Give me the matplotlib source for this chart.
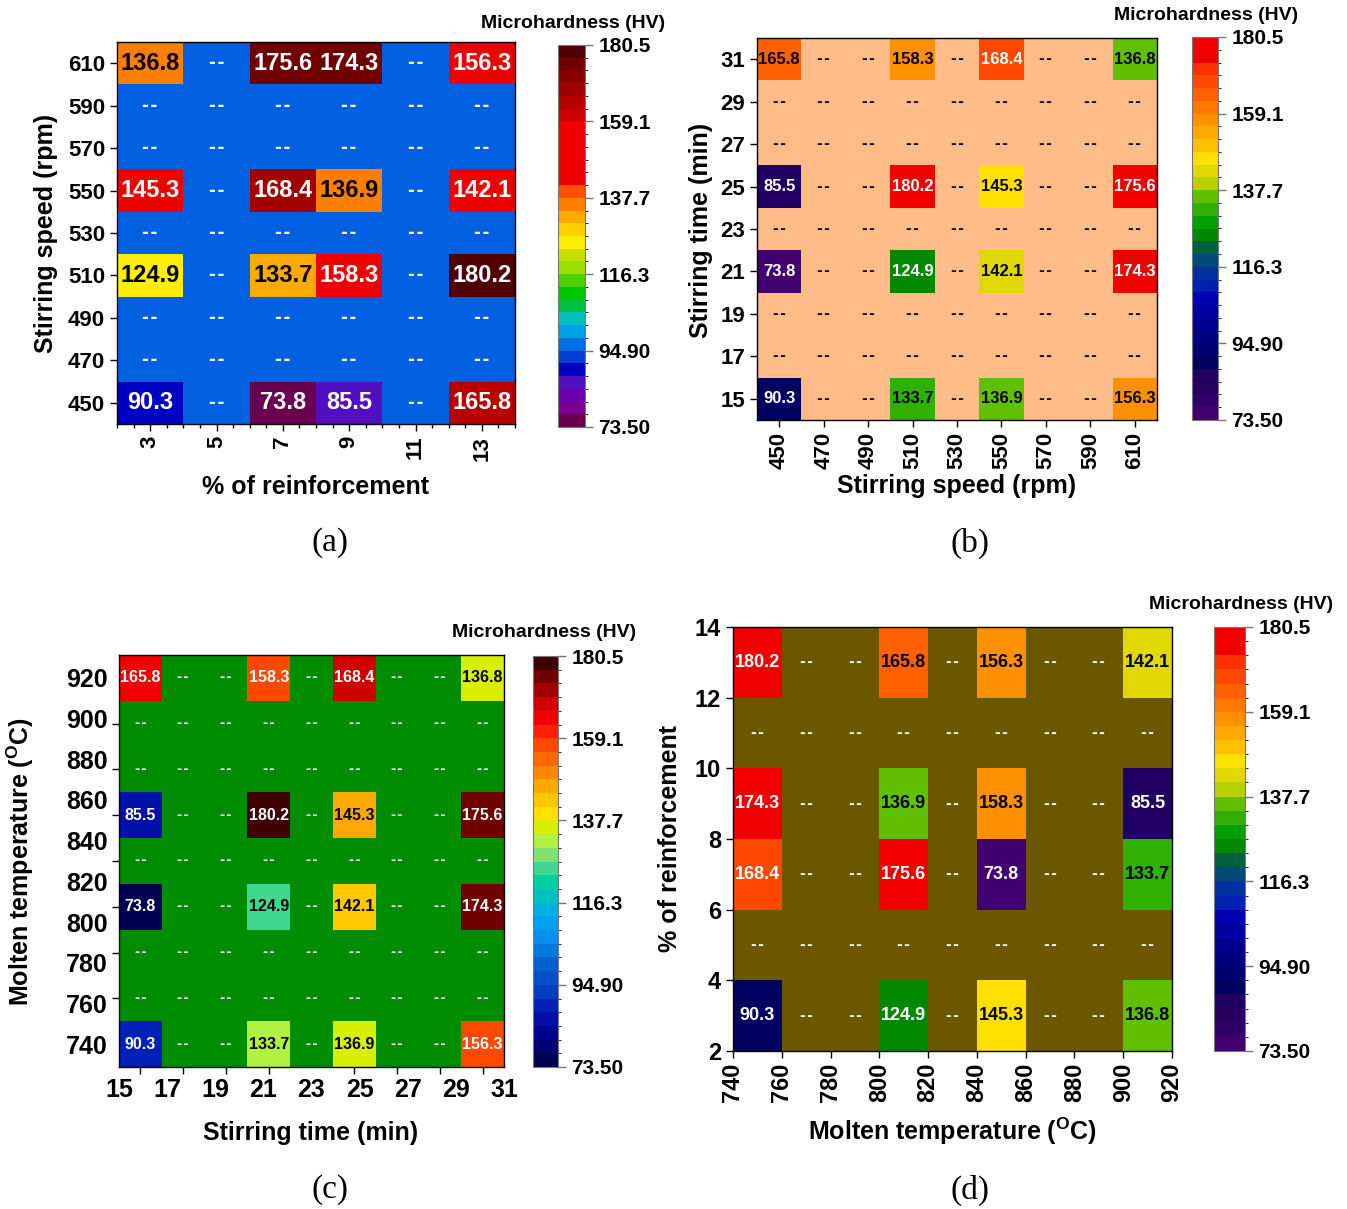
import numpy as np
import matplotlib
matplotlib.use("Agg")
import matplotlib.pyplot as plt
from matplotlib.colors import ListedColormap, BoundaryNorm, to_rgb

# ---------------- data ----------------
N = None
a_cols = [3, 5, 7, 9, 11, 13]
a_rows = [610, 590, 570, 550, 530, 510, 490, 470, 450]
a_vals = [
    [136.8, N, 175.6, 174.3, N, 156.3],
    [N, N, N, N, N, N],
    [N, N, N, N, N, N],
    [145.3, N, 168.4, 136.9, N, 142.1],
    [N, N, N, N, N, N],
    [124.9, N, 133.7, 158.3, N, 180.2],
    [N, N, N, N, N, N],
    [N, N, N, N, N, N],
    [90.3, N, 73.8, 85.5, N, 165.8],
]

b_cols = [450, 470, 490, 510, 530, 550, 570, 590, 610]
b_rows = [31, 29, 27, 25, 23, 21, 19, 17, 15]
b_vals = [
    [165.8, N, N, 158.3, N, 168.4, N, N, 136.8],
    [N, N, N, N, N, N, N, N, N],
    [N, N, N, N, N, N, N, N, N],
    [85.5, N, N, 180.2, N, 145.3, N, N, 175.6],
    [N, N, N, N, N, N, N, N, N],
    [73.8, N, N, 124.9, N, 142.1, N, N, 174.3],
    [N, N, N, N, N, N, N, N, N],
    [N, N, N, N, N, N, N, N, N],
    [90.3, N, N, 133.7, N, 136.9, N, N, 156.3],
]

c_xlabels = ['15', '17', '19', '21', '23', '25', '27', '29', '31']
c_ylabels = ['740', '760', '780', '800', '820', '840', '860', '880', '900', '920']
c_vals = [
    [165.8, N, N, 158.3, N, 168.4, N, N, 136.8],
    [N, N, N, N, N, N, N, N, N],
    [N, N, N, N, N, N, N, N, N],
    [85.5, N, N, 180.2, N, 145.3, N, N, 175.6],
    [N, N, N, N, N, N, N, N, N],
    [73.8, N, N, 124.9, N, 142.1, N, N, 174.3],
    [N, N, N, N, N, N, N, N, N],
    [N, N, N, N, N, N, N, N, N],
    [90.3, N, N, 133.7, N, 136.9, N, N, 156.3],
]

d_cols = [750, 770, 790, 810, 830, 850, 870, 890, 910]
d_rows = [13, 11, 9, 7, 5, 3]
d_vals = [
    [180.2, N, N, 165.8, N, 156.3, N, N, 142.1],
    [N, N, N, N, N, N, N, N, N],
    [174.3, N, N, 136.9, N, 158.3, N, N, 85.5],
    [168.4, N, N, 175.6, N, 73.8, N, N, 133.7],
    [N, N, N, N, N, N, N, N, N],
    [90.3, N, N, 124.9, N, 145.3, N, N, 136.8],
]

cb_ticks = [73.5, 94.9, 116.3, 137.7, 159.1, 180.5]
cb_labels = ['73.50', '94.90', '116.3', '137.7', '159.1', '180.5']
vmin, vmax = 73.5, 180.5

# ---------------- colour maps (30 discrete levels, low -> high) ----------------
cmap_a = ['#6a0050', '#7a0090', '#6a00b0', '#5010c0', '#0000c0', '#0040d0', '#0070e0',
          '#00a0e8', '#00c0c0', '#00c040', '#00c800', '#50d000', '#98e000', '#c8e000',
          '#ffee00', '#ffd000', '#ffaa00', '#ff8000', '#ff5000', '#ee0000', '#ee0000',
          '#ee0000', '#ee0000', '#ee0000', '#cc0000', '#b80000', '#a00000', '#8a0000',
          '#700000', '#500000']
cmap_bd = ['#400070', '#300068', '#280060', '#200060', '#000060', '#000070', '#000080',
           '#000090', '#0000a0', '#0000b0', '#0020b0', '#0030a0', '#004878', '#006040',
           '#008800', '#00a000', '#30b000', '#60c000', '#b8d000', '#e0d800', '#ffe000',
           '#ffc000', '#ffa800', '#ff9000', '#ff7800', '#ff6000', '#ff4800', '#ff3000',
           '#f00000', '#f00000']
cmap_c = ['#000050', '#000070', '#000090', '#0010a8', '#0020b8', '#0040c0', '#0050c8',
          '#0060d0', '#0078e0', '#0090f0', '#00a0f0', '#00b0e0', '#00c0c0', '#00d0a0',
          '#40d890', '#80e070', '#b0f040', '#d8f000', '#ffe000', '#ffc800', '#ffa800',
          '#ff8800', '#ff6800', '#ff4800', '#ff2000', '#f00000', '#d00000', '#a00000',
          '#700000', '#400000']

# ---------------- style ----------------
plt.rcParams['font.family'] = ['Liberation Sans', 'DejaVu Sans']
plt.rcParams['font.weight'] = 'bold'
plt.rcParams['mathtext.fontset'] = 'custom'
plt.rcParams['mathtext.rm'] = 'Liberation Sans:bold'
plt.rcParams['mathtext.bf'] = 'Liberation Sans:bold'
plt.rcParams['axes.linewidth'] = 1.0

W, H = 1347, 1209
fig = plt.figure(figsize=(W / 100, H / 100), dpi=100)
DASH = '-\u200a-'


def rect(l, t, r, b):
    return [l / W, 1 - b / H, (r - l) / W, (b - t) / H]


def ftext(x, y, s, **kw):
    fig.text(x / W, 1 - y / H, s, **kw)


def lum(c):
    r = np.array(to_rgb(c))
    r = np.where(r <= 0.04045, r / 12.92, ((r + 0.055) / 1.055) ** 2.4)
    return 0.2126 * r[0] + 0.7152 * r[1] + 0.0722 * r[2]


def panel(ax_rect, cax_rect, xe, ye, vals, colors, bg, fs, dash_color, dash_fs):
    ax = fig.add_axes(rect(*ax_rect))
    cax = fig.add_axes(rect(*cax_rect))
    cmap = ListedColormap(colors)
    norm = BoundaryNorm(np.linspace(vmin, vmax, 31), cmap.N)
    arr = np.array([[np.nan if v is None else v for v in row] for row in vals[::-1]], dtype=float)
    ax.set_facecolor(bg)
    mesh = ax.pcolormesh(xe, ye, np.ma.masked_invalid(arr), cmap=cmap, norm=norm)
    xc = (np.asarray(xe[:-1]) + np.asarray(xe[1:])) / 2
    yc = (np.asarray(ye[:-1]) + np.asarray(ye[1:])) / 2
    for i, y in enumerate(yc):
        for j, x in enumerate(xc):
            v = arr[i, j]
            if np.isnan(v):
                ax.text(x, y, DASH, ha='center', va='center', color=dash_color,
                        fontsize=dash_fs, fontweight='bold', family='DejaVu Sans')
            else:
                tc = 'black' if lum(cmap(norm(v))) > 0.28 else 'white'
                ax.text(x, y, f'{v:.1f}', ha='center', va='center', color=tc,
                        fontsize=fs, fontweight='bold')
    ax.set_xlim(xe[0], xe[-1])
    ax.set_ylim(ye[0], ye[-1])
    ax.tick_params(direction='out', length=5, width=1, labelsize=16)
    ax.tick_params(which='minor', direction='out', length=3, width=1)
    cb = fig.colorbar(mesh, cax=cax, ticks=cb_ticks)
    cb.ax.set_yticklabels(cb_labels)
    cb.outline.set_edgecolor('#777777')
    cb.outline.set_linewidth(0.8)
    cb.ax.tick_params(length=6, width=1, color='#777777', labelsize=15)
    for t in cb.ax.get_yticklabels():
        t.set_fontweight('bold')
    return ax


# ---------------- panel (a) ----------------
xe_a = np.arange(2, 15, 2)
ye_a = np.arange(440, 621, 20)
ax = panel((117, 42, 515, 424), (558, 45, 585, 427), xe_a, ye_a, a_vals, cmap_a,
           '#0060e0', 17, 'white', 12)
ax.set_xticks(a_cols)
ax.set_xticks(np.arange(2, 14.1, 0.5), minor=True)
ax.set_xticklabels([str(c) for c in a_cols], rotation=90)
ax.set_yticks(a_rows)
for t in ax.get_xticklabels() + ax.get_yticklabels():
    t.set_fontweight('bold')

# ---------------- panel (b) ----------------
xe_b = np.arange(440, 621, 20)
ye_b = np.arange(14, 33, 2)
ax = panel((757, 38, 1157, 420), (1192, 37, 1218, 420), xe_b, ye_b, b_vals, cmap_bd,
           '#ffbb88', 12, 'black', 10)
ax.set_xticks(b_cols)
ax.set_xticklabels([str(c) for c in b_cols], rotation=90)
ax.set_yticks(b_rows)
for t in ax.get_xticklabels() + ax.get_yticklabels():
    t.set_fontweight('bold')

# ---------------- panel (c) ----------------
xe_c = np.arange(10) - 0.5
ye_c = np.arange(10) - 0.5
ax = panel((119, 655, 504, 1067), (533, 656, 558, 1067), xe_c, ye_c, c_vals, cmap_c,
           '#008c00', 11.5, 'white', 9)
ax.set_xticks(np.arange(9), minor=True)
ax.set_yticks(np.arange(9), minor=True)
ax.tick_params(which='minor', length=5, width=1)
ax.set_xticks(-0.5 + np.arange(9) * 9 / 8)
ax.set_xticklabels(c_xlabels)
ax.set_yticks(np.arange(10) * 8 / 9)
ax.set_yticklabels(c_ylabels)
ax.tick_params(which='major', length=0, labelsize=18, pad=8)
for t in ax.get_xticklabels() + ax.get_yticklabels():
    t.set_fontweight('bold')

# ---------------- panel (d) ----------------
xe_d = np.arange(740, 921, 20)
ye_d = np.arange(2, 15, 2)
ax = panel((733, 627, 1172, 1051), (1214, 627, 1245, 1051), xe_d, ye_d, d_vals, cmap_bd,
           '#6b5700', 13, 'white', 10)
ax.set_xticks(xe_d)
ax.set_xticklabels([str(c) for c in xe_d], rotation=90)
ax.set_yticks(ye_d)
ax.tick_params(labelsize=17)
for t in ax.get_xticklabels() + ax.get_yticklabels():
    t.set_fontweight('bold')

# ---------------- labels ----------------
lab = dict(fontsize=18, fontweight='bold', ha='center', va='center')
ftext(316, 487, '% of reinforcement', **lab)
ftext(46, 233, 'Stirring speed (rpm)', rotation=90, **lab)
ftext(957, 486, 'Stirring speed (rpm)', **lab)
ftext(701, 230, 'Stirring time (min)', rotation=90, **lab)
ftext(311, 1133, 'Stirring time (min)', **lab)
ftext(20, 862, r'Molten temperature ($^{\mathbf{O}}$C)', rotation=90, **lab)
ftext(952, 1131, r'Molten temperature ($^{\mathbf{O}}$C)', **lab)
ftext(670, 838, '% of reinforcement', rotation=90, **lab)

tit = dict(fontsize=14, fontweight='bold', ha='right', va='center')
ftext(665, 23, 'Microhardness (HV)', **tit)
ftext(1298, 16, 'Microhardness (HV)', **tit)
ftext(636, 633, 'Microhardness (HV)', **tit)
ftext(1333, 604, 'Microhardness (HV)', **tit)

pl = dict(fontsize=24, family='Liberation Serif', fontweight='normal', ha='center', va='center')
ftext(330, 543, '(a)', **pl)
ftext(970, 543, '(b)', **pl)
ftext(330, 1190, '(c)', **pl)
ftext(970, 1190, '(d)', **pl)

fig.savefig('out.png', dpi=100)
